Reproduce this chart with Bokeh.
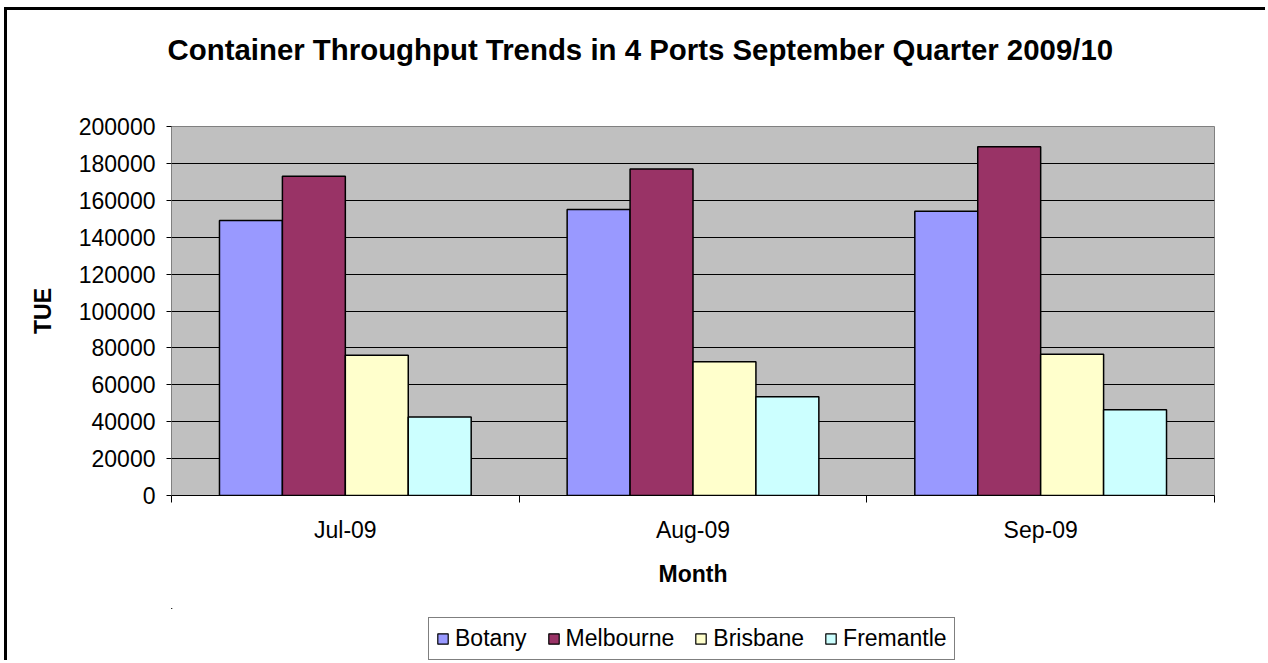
from bokeh.plotting import figure
from bokeh.layouts import column
from bokeh.models import (Range1d, FixedTicker, LinearAxis, Legend, LegendItem,
                          BasicTickFormatter, ColumnDataSource, Title, Grid)
from bokeh.transform import dodge
from bokeh.embed import file_html
from bokeh.resources import INLINE

months = ["Jul-09", "Aug-09", "Sep-09"]
ports = ["Botany", "Melbourne", "Brisbane", "Fremantle"]
botany = [149000, 155000, 154000]
melbourne = [173000, 177000, 189000]
brisbane = [76000, 72500, 76500]
fremantle = [42500, 53500, 46500]
colors = ["#9999FF", "#993366", "#FFFFCC", "#CCFFFF"]
title_text = "Container Throughput Trends in 4 Ports September Quarter 2009/10"

FONT = "Liberation Sans"

src = ColumnDataSource(dict(
    x=[i + 0.5 for i in range(len(months))],
    Botany=botany, Melbourne=melbourne, Brisbane=brisbane, Fremantle=fremantle,
))

p = figure(width=1261, height=601, output_backend="svg", toolbar_location=None,
           x_range=Range1d(0, len(months)), y_range=Range1d(0, 200000),
           x_axis_type=None, y_axis_type=None, title_location=None,
           min_border_left=164, min_border_right=54, min_border_top=116,
           min_border_bottom=116)
p.styles = {"border-top": "3px solid #000000", "border-left": "3px solid #000000",
            "margin-left": "4px", "margin-top": "7px"}
p.background_fill_color = "#C0C0C0"
p.border_fill_color = "white"
p.outline_line_color = "#808080"
p.outline_line_width = 1

# y axis
yax = LinearAxis(ticker=FixedTicker(ticks=list(range(0, 200001, 20000)), minor_ticks=[]),
                 formatter=BasicTickFormatter(use_scientific=False))
yax.axis_label = "TUE"
yax.axis_label_text_font = FONT
yax.axis_label_text_font_style = "bold"
yax.axis_label_text_font_size = "23px"
yax.axis_label_text_color = "#000000"
yax.axis_label_standoff = 20
yax.major_label_text_font = FONT
yax.major_label_text_font_size = "23px"
yax.major_label_text_color = "#000000"
yax.major_label_standoff = 11
yax.major_tick_out = 5
yax.major_tick_in = 0
yax.major_tick_line_color = "#000000"
yax.axis_line_color = "#808080"
p.add_layout(yax, "left")

# x axis
xax = LinearAxis(ticker=FixedTicker(ticks=[i + 0.5 for i in range(len(months))],
                                    minor_ticks=list(range(len(months) + 1))))
xax.major_label_overrides = {i + 0.5: m for i, m in enumerate(months)}
xax.axis_label = "Month"
xax.axis_label_text_font = FONT
xax.axis_label_text_font_style = "bold"
xax.axis_label_text_font_size = "23px"
xax.axis_label_text_color = "#000000"
xax.axis_label_standoff = 15
xax.major_label_text_font = FONT
xax.major_label_text_font_size = "23px"
xax.major_label_text_color = "#000000"
xax.major_label_standoff = 14
xax.major_tick_line_color = None
xax.major_tick_out = 0
xax.major_tick_in = 0
xax.minor_tick_out = 7
xax.minor_tick_in = 0
xax.minor_tick_line_color = "#000000"
xax.axis_line_color = "#000000"
p.add_layout(xax, "below")

p.add_layout(Grid(dimension=1, ticker=yax.ticker, grid_line_color="#000000",
                  grid_line_width=1))

w = 0.181
offs = [-1.5 * w, -0.5 * w, 0.5 * w, 1.5 * w]
for port, c, o in zip(ports, colors, offs):
    p.vbar(x=dodge("x", o, range=p.x_range), top=port, width=w, source=src,
           fill_color=c, line_color="#000000", line_width=1.5)

# spacer between the title and the plot area, then the title itself
p.add_layout(Title(text=" ", text_font_size="10px", standoff=43), "above")
p.add_layout(Title(text=title_text, align="left", offset=-4, text_font=FONT,
                   text_font_style="bold", text_color="#000000",
                   text_font_size="29.4px", standoff=10), "above")

# legend strip below the chart (its renderers sit outside the visible ranges)
p2 = figure(width=1261, height=52, output_backend="svg", toolbar_location=None,
            x_range=Range1d(10, 11), y_range=Range1d(-2, -1),
            x_axis_type=None, y_axis_type=None, title_location=None,
            min_border_left=0, min_border_right=0, min_border_top=0,
            min_border_bottom=0)
p2.styles = {"border-left": "3px solid #000000", "margin-left": "4px"}
p2.outline_line_color = None
p2.background_fill_color = "white"
p2.border_fill_color = "white"
p2.xgrid.grid_line_color = None
p2.ygrid.grid_line_color = None
items = []
for port, c, o in zip(ports, colors, offs):
    r = p2.vbar(x=dodge("x", o, range=p2.x_range), top=port, width=w, source=src,
                fill_color=c, line_color="#000000", line_width=1.2)
    items.append(LegendItem(label=port, renderers=[r]))

leg = Legend(items=items, orientation="horizontal", location=(257, 0))
leg.label_text_font = FONT
leg.label_text_font_size = "23px"
leg.label_text_color = "#000000"
leg.glyph_width = 13
leg.glyph_height = 13
leg.label_standoff = 6
leg.spacing = 20
leg.padding = 7
leg.margin = 0
leg.border_line_color = "#000000"
leg.border_line_width = 1
leg.background_fill_color = "white"
p2.add_layout(leg, "center")

layout = column(p, p2, spacing=0)
open("out.html", "w").write(file_html(layout, INLINE))
